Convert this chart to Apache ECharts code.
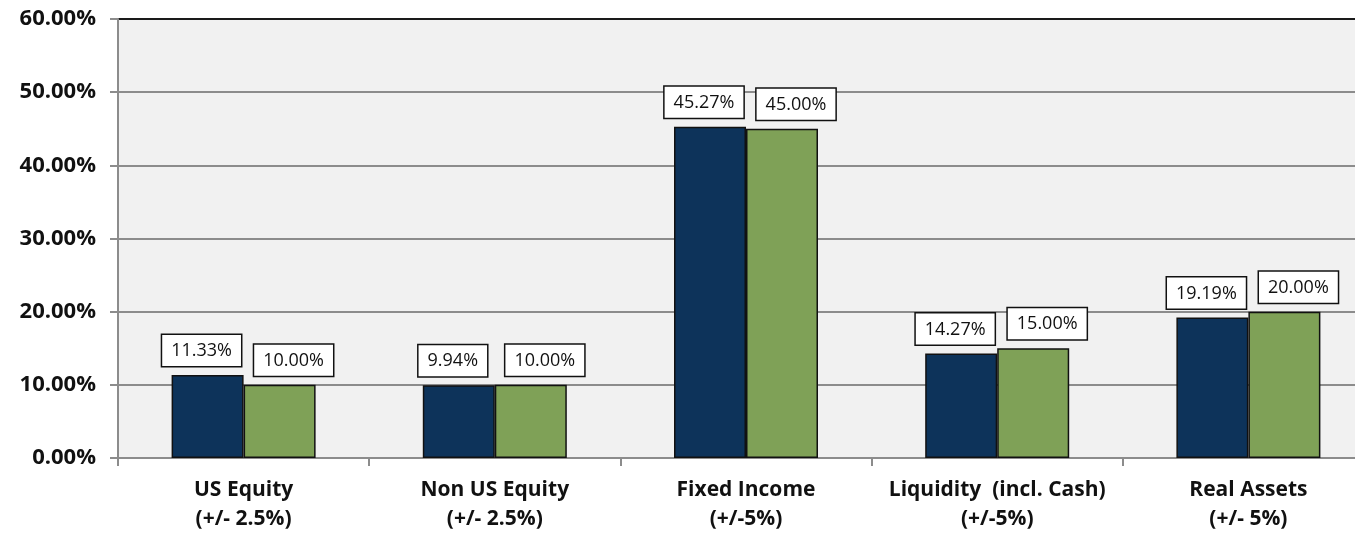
<!DOCTYPE html>
<html>
<head>
<meta charset="utf-8">
<script src="https://cdn.jsdelivr.net/npm/echarts@6/dist/echarts.min.js"></script>
<style>
  html, body { margin: 0; padding: 0; background: #fff; }
  #chart { width: 1355px; height: 534px; }
</style>
</head>
<body>
<div id="chart"></div>
<script>
// asset classes (two-line labels with target ranges)
const categories = [
  'US Equity\n(+/- 2.5%)',
  'Non US Equity\n(+/- 2.5%)',
  'Fixed Income\n(+/-5%)',
  'Liquidity  (incl. Cash)\n(+/-5%)',
  'Real Assets\n(+/- 5%)'
];
const actual = [11.33, 9.94, 45.27, 14.27, 19.19];
const target = [10.00, 10.00, 45.00, 15.00, 20.00];
const yTicks = [0, 10, 20, 30, 40, 50, 60];

const font = '"Open Sans", "Noto Sans", sans-serif';

function boxLabel(dx) {
  return {
    show: true,
    position: 'top',
    distance: 9,
    offset: [dx, 0],
    formatter: p => p.value.toFixed(2) + '%',
    color: '#111',
    fontFamily: font,
    fontSize: 18,
    backgroundColor: '#fff',
    borderColor: '#111',
    borderWidth: 1.5,
    padding: [7, 9, 6, 9]
  };
}

let myChart = echarts.init(document.getElementById('chart'));

// 顶部那条线是黑色的
let gridColors = yTicks.map((v, i) => i === yTicks.length - 1 ? '#1a1a1a' : '#8c8c8c');

myChart.setOption({
  animation: false,
  grid: {
    left: 118,
    top: 19,
    width: 1256,
    height: 439,
    outerBoundsMode: 'none',
    containLabel: false,
    show: true,
    backgroundColor: '#f1f1f1',
    borderWidth: 0
  },
  xAxis: {
    type: 'category',
    data: categories,
    axisLine: { lineStyle: { color: '#8c8c8c', width: 2 } },
    axisTick: { show: true, interval: 0, length: 8, lineStyle: { color: '#8c8c8c', width: 2 } },
    axisLabel: {
      interval: 0,
      color: '#111',
      fontFamily: font,
      fontWeight: 'bold',
      fontSize: 21,
      lineHeight: 29,
      margin: 18
    }
  },
  yAxis: {
    type: 'value',
    min: 0,
    max: 60,
    interval: 10,
    axisLine: { show: true, lineStyle: { color: '#8c8c8c', width: 2 } },
    axisTick: { show: true, length: 8, lineStyle: { color: '#8c8c8c', width: 2 } },
    splitLine: { show: true, lineStyle: { color: gridColors, width: 2 } },
    axisLabel: {
      formatter: v => v.toFixed(2) + '%',
      color: '#111',
      fontFamily: font,
      fontWeight: 'bold',
      fontSize: 22,
      margin: 22
    }
  },
  series: [
    {
      name: 'Actual',
      type: 'bar',
      data: actual,
      barWidth: 72,
      barGap: '0%',
      itemStyle: { color: '#0d335a', borderColor: '#111', borderWidth: 1.5 },
      label: boxLabel(-6)
    },
    {
      name: 'Target',
      type: 'bar',
      data: target,
      barWidth: 72,
      barGap: '0%',
      itemStyle: { color: '#7fa157', borderColor: '#111', borderWidth: 1.5 },
      label: boxLabel(14)
    }
  ]
});
</script>
</body>
</html>
